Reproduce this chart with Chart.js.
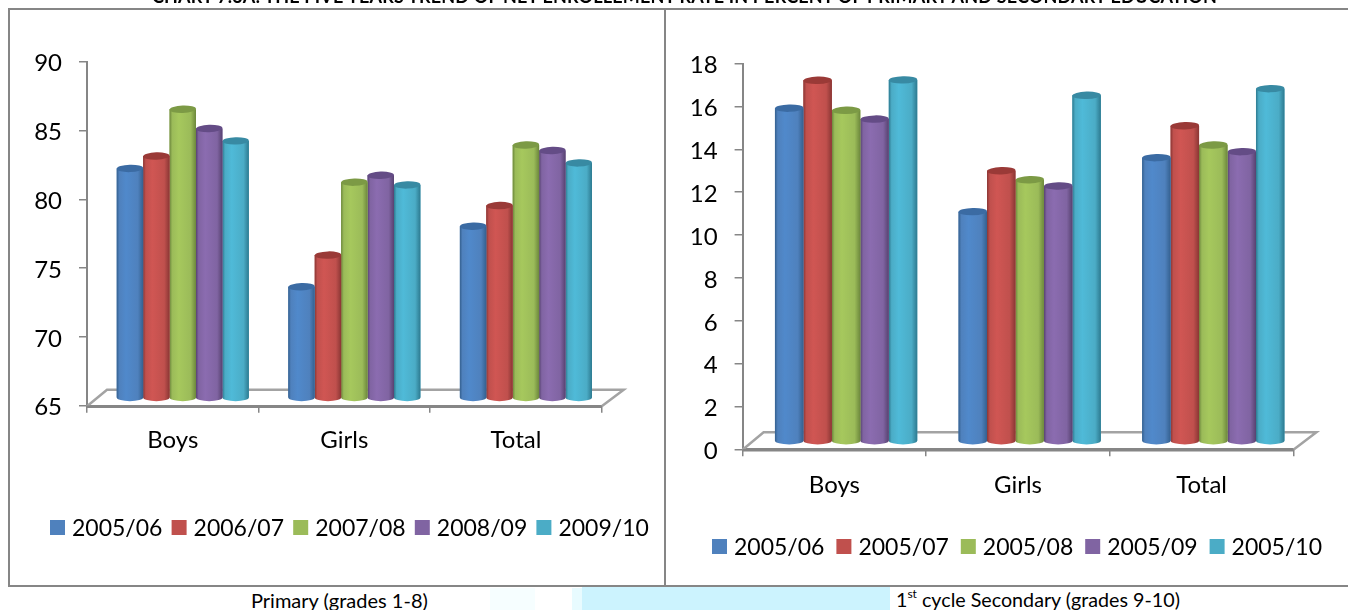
<!DOCTYPE html>
<html>
<head>
<meta charset="utf-8">
<title>Net enrollment rate trend</title>
<script src="https://cdn.jsdelivr.net/npm/chart.js@4"></script>
<style>
  html, body { margin: 0; padding: 0; background: #fff; width: 1348px; height: 610px; overflow: hidden; font-family: Lato, sans-serif; color: #000; }
  .panel { position: absolute; top: 0; height: 586px; }
  .rule { position: absolute; background: #868686; }
  .wash { position: absolute; }
  .text { position: absolute; white-space: nowrap; line-height: 1; }
  #title { left: 152px; top: -13.5px; font-size: 18px; font-weight: 700; letter-spacing: 0.17px; }
  #capL { left: 251px; top: 590px; font-size: 20px; }
  #capR { left: 896px; top: 590px; font-size: 19.7px; }
  #capR sup { font-size: 12px; line-height: 0; position: relative; top: -1px; vertical-align: super; }
</style>
</head>
<body>
<div class="wash" style="left:490px;top:588px;width:45px;height:22px;background:#f6feff"></div>
<div class="wash" style="left:572px;top:588px;width:10px;height:22px;background:#e8fbff"></div>
<div class="wash" style="left:582px;top:587px;width:308px;height:23px;background:#ccf3fe"></div>
<div class="rule" style="left:8px;top:8px;width:1340px;height:2px"></div>
<div class="rule" style="left:8px;top:585px;width:1340px;height:2px"></div>
<div class="rule" style="left:8px;top:8px;width:2px;height:579px"></div>
<div class="rule" style="left:664px;top:8px;width:2px;height:579px"></div>
<div class="panel" style="left:0;width:665px"><canvas id="primary"></canvas></div>
<div class="panel" style="left:665px;width:683px"><canvas id="secondary"></canvas></div>
<div class="text" id="title">CHART 7.3A: THE FIVE YEARS TREND OF NET ENROLLEMENT RATE IN PERCENT OF PRIMARY AND SECONDARY EDUCATION</div>
<div class="text" id="capL">Primary (grades 1-8)</div>
<div class="text" id="capR">1<sup>st</sup> cycle Secondary (grades 9-10)</div>
<script>
// Enrollment categories and period labels
const categories = ['Boys', 'Girls', 'Total'];
const primaryYears = ['2005/06', '2006/07', '2007/08', '2008/09', '2009/10'];
const secondaryYears = ['2005/06', '2005/07', '2005/08', '2005/09', '2005/10'];

// Primary (grades 1-8), net enrollment in percent
const primary0506 = [81.7, 73.1, 77.5];
const primary0607 = [82.6, 75.4, 79.0];
const primary0708 = [86.0, 80.7, 83.4];
const primary0809 = [84.6, 81.2, 83.0];
const primary0910 = [83.7, 80.5, 82.1];

// First cycle secondary (grades 9-10), net enrollment in percent
const secondary0506 = [15.56, 10.73, 13.25];
const secondary0607 = [16.86, 12.64, 14.74];
const secondary0708 = [15.46, 12.22, 13.84];
const secondary0809 = [15.05, 11.93, 13.53];
const secondary0910 = [16.88, 16.16, 16.47];

// Series palette: flat legend colour, cap colour, then side shading from edge to highlight
const seriesColors = ['#4f81bd', '#c0504d', '#9bbb59', '#8064a2', '#4bacc6'];
const capColors = ['#3b6ba3', '#9a3a37', '#7c9a45', '#644c86', '#388aa3'];
const edgeColors = ['#34608f', '#8a3634', '#6c873c', '#574270', '#2d7a90'];
const lightColors = ['#5089cb', '#d05653', '#a6c85d', '#8b6cb0', '#4fbad8'];

const FONT = 'Lato, sans-serif';
const AXIS = '#868686';

// Cylinder shading, axis floor and legend for the pseudo-3D column look
const cylinders = {
  id: 'cylinders',
  beforeDatasetsDraw(chart, args, opts) {
    const { ctx, chartArea: a } = chart;
    ctx.save();
    ctx.strokeStyle = '#a3a3a3';
    ctx.lineWidth = 2.5;
    ctx.beginPath();
    ctx.moveTo(a.left, a.bottom + 0.5);
    ctx.lineTo(a.left + opts.depthX, a.bottom + opts.depthY);
    ctx.lineTo(a.right + opts.depthX + 2, a.bottom + opts.depthY);
    ctx.lineTo(a.right, a.bottom + 0.5);
    ctx.stroke();
    ctx.strokeStyle = AXIS;
    ctx.lineWidth = 2.5;
    ctx.beginPath();
    ctx.moveTo(a.left, a.bottom + 1);
    ctx.lineTo(a.right, a.bottom + 1);
    ctx.stroke();
    ctx.restore();
    ctx.save();
    ctx.translate(opts.shiftX, opts.shiftY);
  },
  afterDatasetDraw(chart, args, opts) {
    const { ctx } = chart;
    const i = args.index;
    chart.getDatasetMeta(i).data.forEach((bar) => {
      const r = bar.width / 2;
      const left = bar.x - r;
      const right = bar.x + r;
      const g = ctx.createLinearGradient(left, 0, right, 0);
      g.addColorStop(0, edgeColors[i]);
      g.addColorStop(0.1, seriesColors[i]);
      g.addColorStop(0.35, lightColors[i]);
      g.addColorStop(0.8, seriesColors[i]);
      g.addColorStop(1, edgeColors[i]);
      ctx.fillStyle = g;
      ctx.beginPath();
      ctx.moveTo(left, bar.y);
      ctx.lineTo(left, bar.base);
      ctx.ellipse(bar.x, bar.base, r, opts.capHeight, 0, Math.PI, 0, true);
      ctx.lineTo(right, bar.y);
      ctx.closePath();
      ctx.fill();
      ctx.fillStyle = capColors[i];
      ctx.beginPath();
      ctx.ellipse(bar.x, bar.y, r, opts.capHeight, -0.03, 0, Math.PI * 2);
      ctx.fill();
    });
  },
  afterDatasetsDraw(chart) {
    chart.ctx.restore();
  },
  afterDraw(chart, args, opts) {
    const { ctx } = chart;
    ctx.save();
    ctx.font = '23px ' + FONT;
    ctx.textBaseline = 'middle';
    ctx.textAlign = 'left';
    chart.data.datasets.forEach((ds, i) => {
      const x = opts.legendX + i * opts.legendStep;
      ctx.fillStyle = seriesColors[i];
      ctx.fillRect(x, opts.legendY - 7.5, 15, 15);
      ctx.fillStyle = '#000';
      ctx.fillText(ds.label, x + 22, opts.legendY + 1);
    });
    ctx.restore();
  }
};

function columnChart(id, w, years, rows, yMin, yMax, yStep, geometry) {
  const canvas = document.getElementById(id);
  canvas.width = w;
  canvas.height = 586;
  canvas.style.width = w + 'px';
  canvas.style.height = '586px';
  return new Chart(canvas, {
    type: 'bar',
    data: {
      labels: categories,
      datasets: rows.map((values, i) => ({
        label: years[i],
        data: values,
        base: yMin,
        backgroundColor: seriesColors[i],
        borderWidth: 0,
        clip: false,
        categoryPercentage: geometry.barShare,
        barPercentage: 1
      }))
    },
    plugins: [cylinders],
    options: {
      responsive: false,
      animation: false,
      layout: { padding: { left: 0, right: geometry.padRight, top: geometry.padTop, bottom: 0 } },
      plugins: {
        legend: { display: false },
        tooltip: { enabled: false },
        title: { display: false },
        cylinders: geometry
      },
      scales: {
        x: {
          offset: true,
          afterFit(scale) { scale.height = geometry.axisHeight; },
          grid: { offset: true, drawOnChartArea: false, drawTicks: true, tickLength: 7, color: AXIS, lineWidth: 1.5 },
          border: { color: AXIS, width: 2 },
          ticks: { color: '#000', font: { family: FONT, size: 24 }, padding: geometry.labelPad, maxRotation: 0 }
        },
        y: {
          min: yMin,
          max: yMax,
          afterFit(scale) { scale.width = geometry.axisWidth; },
          grid: { drawOnChartArea: false, drawTicks: true, tickLength: 8, color: AXIS, lineWidth: 1.5 },
          border: { color: AXIS, width: 2 },
          ticks: { stepSize: yStep, color: '#000', font: { family: FONT, size: 24 }, padding: 17, labelOffset: 2 }
        }
      }
    }
  });
}

columnChart('primary', 665, primaryYears,
  [primary0506, primary0607, primary0708, primary0809, primary0910],
  65, 90, 5, {
    axisWidth: 87, axisHeight: 180.3, padRight: 63.3, padTop: 61.7,
    labelPad: 13.5, barShare: 0.77, shiftX: 10, shiftY: -7.5, capHeight: 3.7,
    depthX: 20, depthY: -16, legendX: 50, legendY: 527.5, legendStep: 121.6
  });

columnChart('secondary', 683, secondaryYears,
  [secondary0506, secondary0607, secondary0708, secondary0809, secondary0910],
  0, 18, 2, {
    axisWidth: 77.6, axisHeight: 136.7, padRight: 54.6, padTop: 63.7,
    labelPad: 15, barShare: 0.775, shiftX: 11.7, shiftY: -7.8, capHeight: 3.7,
    depthX: 21, depthY: -17, legendX: 47, legendY: 546.5, legendStep: 124.4
  });
</script>
</body>
</html>
